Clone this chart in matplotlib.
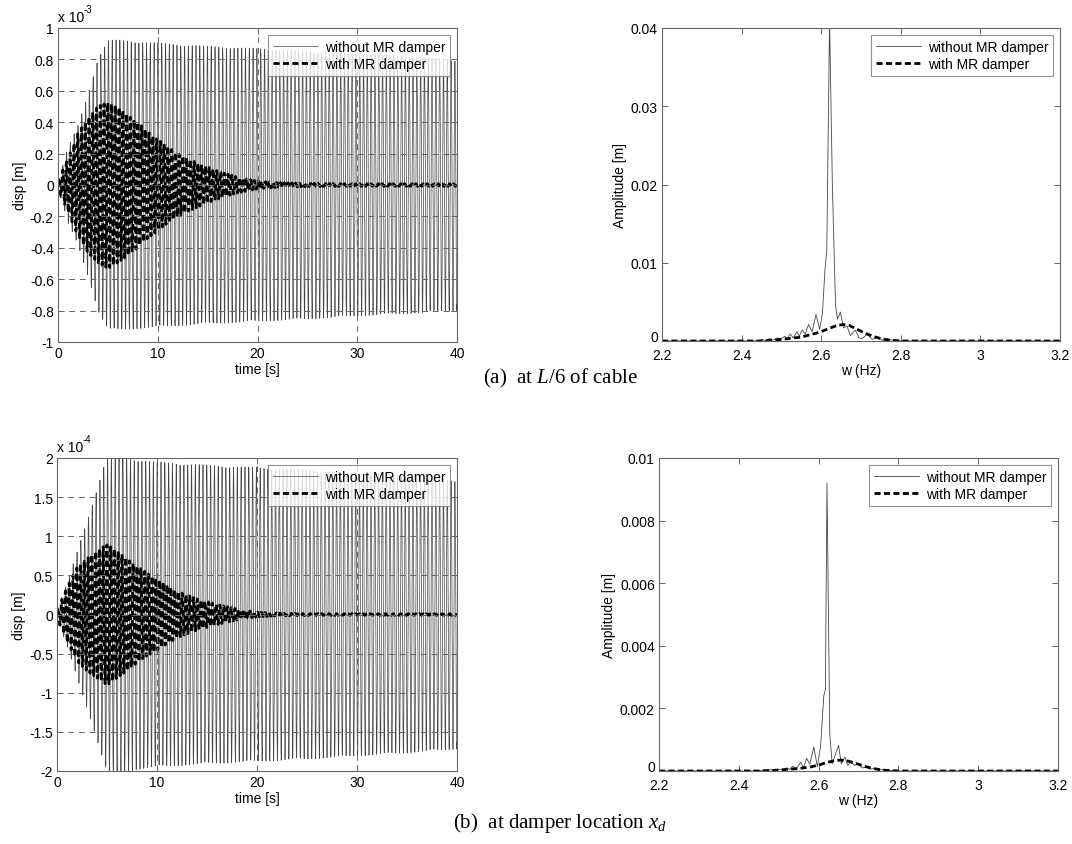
import numpy as np
import matplotlib
matplotlib.use("Agg")
import matplotlib.pyplot as plt
import matplotlib.transforms as mtransforms

plt.rcParams['font.family'] = ['Liberation Sans', 'DejaVu Sans']
plt.rcParams['mathtext.fontset'] = 'custom'
plt.rcParams['mathtext.it'] = 'Liberation Serif:italic'
plt.rcParams['mathtext.rm'] = 'Liberation Serif'

# ---------------- data ----------------
# time-history envelopes (peak amplitude read at knot times)
t_end = 40.0
f_without = 2.62      # Hz, dominant frequency (spectrum peak)
f_with = 2.655        # Hz

env_t_a_wo = [0, 1, 2, 3, 4, 5, 6, 8, 10, 15, 20, 25, 30, 35, 40]
env_a_wo = [0.02, 0.24, 0.38, 0.58, 0.80, 0.92, 0.925, 0.915, 0.905, 0.885, 0.87, 0.855, 0.835, 0.82, 0.80]   # x1e-3 m
env_t_a_w = [0, 1, 2, 3, 4, 5, 6, 7, 8, 9, 10, 12, 14, 16, 18, 20, 22, 25, 30, 40]
env_a_w = [0.03, 0.17, 0.33, 0.43, 0.50, 0.53, 0.50, 0.45, 0.40, 0.34, 0.29, 0.20, 0.14, 0.09, 0.05, 0.025, 0.015, 0.01, 0.008, 0.008]

env_t_b_wo = [0, 1, 2, 3, 4, 5, 6, 7, 8, 10, 15, 20, 25, 30, 35, 40]
env_b_wo = [0.05, 0.40, 0.80, 1.20, 1.60, 2.02, 2.02, 2.01, 1.98, 1.95, 1.91, 1.88, 1.85, 1.81, 1.77, 1.72]   # x1e-4 m
env_t_b_w = [0, 1, 2, 3, 4, 5, 6, 7, 8, 9, 10, 12, 14, 16, 18, 20, 22, 25, 30, 40]
env_b_w = [0.05, 0.35, 0.60, 0.72, 0.82, 0.90, 0.82, 0.72, 0.62, 0.53, 0.46, 0.30, 0.20, 0.13, 0.07, 0.03, 0.018, 0.012, 0.01, 0.01]

# spectra
fa_wo = [2.20, 2.44, 2.452, 2.46, 2.47, 2.478, 2.49, 2.498, 2.508, 2.515, 2.522, 2.53, 2.539, 2.545,
         2.552, 2.56, 2.568, 2.577, 2.587, 2.596, 2.603, 2.61, 2.614, 2.621, 2.628, 2.636, 2.641,
         2.648, 2.656, 2.665, 2.673, 2.686, 2.695, 2.703, 2.716, 2.728, 2.741, 2.753, 2.766, 2.778,
         2.787, 2.80, 3.20]
aa_wo = [0, 0, 0.0002, 0.00005, 0.0003, 0.0001, 0.0004, 0.0002, 0.0006, 0.0003, 0.0009, 0.0004, 0.0012, 0.0006,
         0.0014, 0.0009, 0.0021, 0.0012, 0.0034, 0.0015, 0.0035, 0.0095, 0.0115, 0.041, 0.020, 0.0045, 0.0028,
         0.0037, 0.0017, 0.0019, 0.0007, 0.0014, 0.0004, 0.0003, 0.0009, 0.0002, 0.0005, 0.0001, 0.0003, 0.0001,
         0.0002, 0, 0]
fa_w = [2.20, 2.45, 2.50, 2.55, 2.58, 2.60, 2.62, 2.64, 2.655, 2.67, 2.69, 2.71, 2.73, 2.75, 2.77, 2.80, 3.20]
aa_w = [0, 0, 0.0002, 0.0005, 0.0009, 0.0012, 0.0016, 0.0020, 0.0021, 0.0020, 0.0015, 0.0010, 0.0006, 0.0003, 0.0001, 0, 0]

fb_wo = [2.20, 2.45, 2.46, 2.47, 2.48, 2.49, 2.50, 2.51, 2.52, 2.528, 2.535, 2.545, 2.555, 2.562, 2.57,
         2.578, 2.588, 2.597, 2.605, 2.613, 2.617, 2.621, 2.628, 2.634, 2.65, 2.657, 2.666, 2.673, 2.68,
         2.69, 2.70, 2.71, 2.72, 2.73, 2.74, 2.75, 2.76, 2.78, 2.80, 3.20]
ab_wo = [0, 0, 0.00003, 0.00002, 0.00004, 0.00003, 0.00006, 0.00004, 0.0001, 0.00005, 0.00015, 0.00008, 0.00028, 0.0001, 0.0004,
         0.00022, 0.00077, 0.00013, 0.0008, 0.0024, 0.0026, 0.0092, 0.0012, 0.00023, 0.00082, 0.00023, 0.00045, 0.00018, 0.00029,
         0.00018, 0.00022, 0.0001, 0.00012, 0.00006, 0.00009, 0.00003, 0.00005, 0.00002, 0, 0]
fb_w = [2.20, 2.45, 2.50, 2.55, 2.58, 2.60, 2.62, 2.64, 2.655, 2.67, 2.69, 2.71, 2.73, 2.75, 2.77, 2.80, 3.20]
ab_w = [0, 0, 0.00003, 0.00008, 0.00013, 0.00019, 0.00027, 0.00033, 0.00035, 0.00033, 0.00026, 0.00017, 0.0001, 0.00005, 0.00002, 0, 0]

t_ticks = [0, 10, 20, 30, 40]
yticks_a = [-1, -0.8, -0.6, -0.4, -0.2, 0, 0.2, 0.4, 0.6, 0.8, 1]
yticks_b = [-2, -1.5, -1, -0.5, 0, 0.5, 1, 1.5, 2]
f_ticks = [2.2, 2.4, 2.6, 2.8, 3.0, 3.2]
yticks_fa = [0, 0.01, 0.02, 0.03, 0.04]
yticks_fb = [0, 0.002, 0.004, 0.006, 0.008, 0.01]

lbl_wo = 'without MR damper'
lbl_w = 'with MR damper'

# ---------------- figure ----------------
W, H = 1072, 845
fig = plt.figure(figsize=(W / 100, H / 100), dpi=100)

def fr(l, r, t, b):
    return [l / W, 1 - b / H, (r - l) / W, (b - t) / H]

SPINE = '#666666'
THIN = '#454545'
FS = 10

def style(ax):
    for s in ax.spines.values():
        s.set_color(SPINE)
        s.set_linewidth(0.8)
    ax.tick_params(direction='in', top=True, right=True, color=SPINE, labelsize=FS, length=4, width=0.7, pad=3)

def fmt(v):
    return '%g' % v

def legend(ax):
    leg = ax.legend(loc='upper right', fontsize=FS, frameon=True, fancybox=False, borderaxespad=0.5,
                    handlelength=3.2, handletextpad=0.5, borderpad=0.35, labelspacing=0.25)
    leg.get_frame().set_edgecolor('#777777')
    leg.get_frame().set_linewidth(0.8)

t = np.arange(0, t_end + 1e-9, 0.02)

def time_panel(rect, kt_wo, e_wo, kt_w, e_w, yticks, ylim, expo):
    ax = fig.add_axes(rect)
    s_wo = np.interp(t, kt_wo, e_wo) * np.sin(2 * np.pi * f_without * t)
    s_w = np.interp(t, kt_w, e_w) * np.sin(2 * np.pi * f_with * t)
    ax.plot(t, s_wo, color=THIN, lw=0.5, label=lbl_wo)
    ax.plot(t, s_w, color='black', lw=2.0, linestyle=(0, (2.2, 1.2)), label=lbl_w)
    ax.set_xlim(0, t_end)
    ax.set_ylim(*ylim)
    ax.set_xticks(t_ticks)
    ax.set_yticks(yticks)
    ax.set_yticklabels([fmt(v) for v in yticks])
    ax.grid(True, color='#666666', linestyle=(0, (6, 5)), linewidth=0.7)
    ax.set_axisbelow(False)
    style(ax)
    ax.set_xlabel('time [s]', fontsize=FS, labelpad=1)
    ax.set_ylabel('disp [m]', fontsize=FS, labelpad=2)
    ax.text(0.0, 1.012, 'x 10', transform=ax.transAxes, fontsize=FS, ha='left', va='bottom')
    ax.text(0.063, 1.045, expo, transform=ax.transAxes, fontsize=7, ha='left', va='bottom')
    legend(ax)
    return ax

def freq_panel(rect, f1, a1, f2, a2, yticks, ylim):
    ax = fig.add_axes(rect)
    ax.plot(f1, a1, color=THIN, lw=0.6, label=lbl_wo)
    ax.plot(f2, a2, color='black', lw=2.0, linestyle=(0, (2.2, 1.2)), label=lbl_w)
    ax.set_xlim(2.2, 3.2)
    ax.set_ylim(*ylim)
    ax.set_xticks(f_ticks)
    ax.set_xticklabels([fmt(v) for v in f_ticks])
    ax.set_yticks(yticks)
    ax.set_yticklabels([fmt(v) for v in yticks])
    style(ax)
    ax.tick_params(axis='x', pad=5)
    # lift the "0" label slightly so it does not collide with the first x label
    lab0 = ax.get_yticklabels()[0]
    lab0.set_transform(lab0.get_transform() + mtransforms.ScaledTranslation(0, 5 / 100, fig.dpi_scale_trans))
    ax.set_xlabel('w (Hz)', fontsize=FS, labelpad=1)
    ax.set_ylabel('Amplitude [m]', fontsize=FS, labelpad=3)
    legend(ax)
    return ax

time_panel(fr(58, 457, 29, 343), env_t_a_wo, env_a_wo, env_t_a_w, env_a_w, yticks_a, (-1, 1), '-3')
freq_panel(fr(662, 1060, 29, 342), fa_wo, aa_wo, fa_w, aa_w, yticks_fa, (0, 0.04))
time_panel(fr(57, 457, 459, 772), env_t_b_wo, env_b_wo, env_t_b_w, env_b_w, yticks_b, (-2, 2), '-4')
freq_panel(fr(659, 1058, 459, 772), fb_wo, ab_wo, fb_w, ab_w, yticks_fb, (0, 0.01))

fig.text(560 / W, 1 - 378 / H, r'(a)  at $\mathit{L}$/6 of cable', fontsize=15, ha='center', va='center',
         family='Liberation Serif')
fig.text(560 / W, 1 - 823 / H, r'(b)  at damper location $\mathit{x_d}$', fontsize=15, ha='center', va='center',
         family='Liberation Serif')

fig.savefig('out.png', dpi=100, facecolor='white')
